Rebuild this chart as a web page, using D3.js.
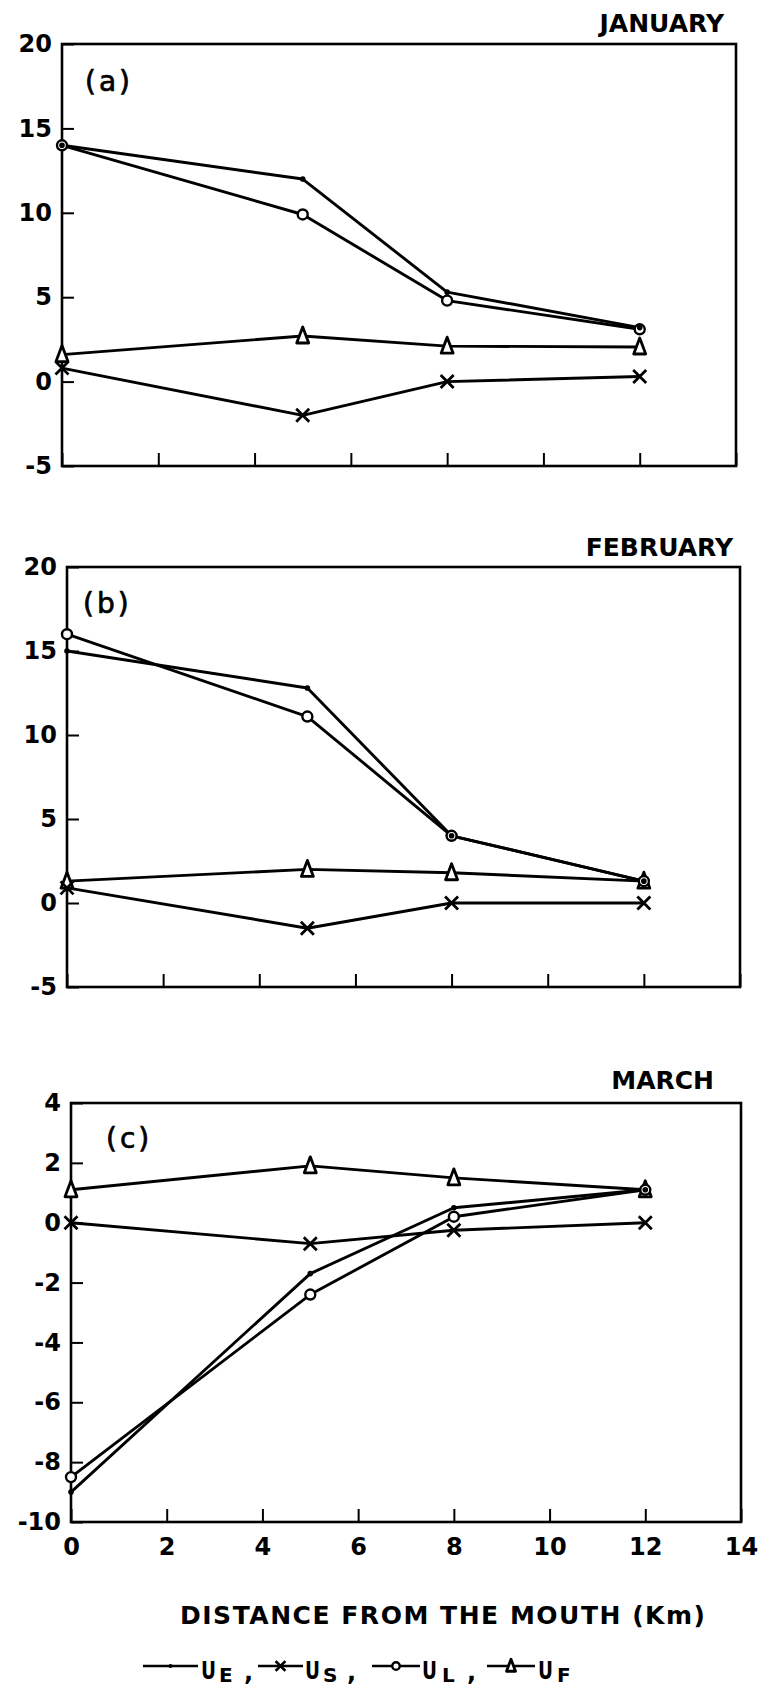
<!DOCTYPE html>
<html>
<head>
<meta charset="utf-8">
<script src="https://cdn.jsdelivr.net/npm/d3@7"></script>
<style>
  html, body { margin: 0; padding: 0; background: #fff; }
  svg { display: block; }
  text { font-family: "DejaVu Sans", sans-serif; fill: #000; }
</style>
</head>
<body>
<svg id="chart" width="762" height="1688"></svg>
<script>
// Distance stations along the estuary (km from the mouth)
const distances = [0, 5, 8, 12];

// Month names and panel tags
const months = ["JANUARY", "FEBRUARY", "MARCH"];
const panelTags = ["(a)", "(b)", "(c)"];

// January velocity components
const janUE = [14.0, 12.0, 5.3, 3.2];
const janUS = [0.8, -2.0, 0.0, 0.3];
const janUL = [14.0, 9.9, 4.8, 3.1];
const janUF = [1.6, 2.7, 2.1, 2.05];

// February velocity components
const febUE = [15.0, 12.8, 4.0, 1.3];
const febUS = [0.9, -1.5, 0.0, 0.0];
const febUL = [16.0, 11.1, 4.0, 1.3];
const febUF = [1.3, 2.0, 1.8, 1.3];

// March velocity components
const marUE = [-9.0, -1.7, 0.5, 1.1];
const marUS = [0.0, -0.7, -0.25, 0.0];
const marUL = [-8.5, -2.4, 0.2, 1.1];
const marUF = [1.1, 1.9, 1.5, 1.1];

// Axis ticks
const xTicks = [0, 2, 4, 6, 8, 10, 12, 14];
const yTicksWinter = [-5, 0, 5, 10, 15, 20];
const yTicksMarch = [-10, -8, -6, -4, -2, 0, 2, 4];

// Legend entries: series key and subscript letter
const legendKeys = ["UE", "US", "UL", "UF"];
const legendSubs = ["E", "S", "L", "F"];

const axisTitle = "DISTANCE FROM THE MOUTH (Km)";

const svg = d3.select("#chart");

const panels = [
  { month: months[0], tag: panelTags[0], series: { UE: janUE, US: janUS, UL: janUL, UF: janUF },
    yDomain: [-5, 20], yTicks: yTicksWinter,
    left: 62, right: 736, top: 44, bottom: 466,
    titleX: 724, titleY: 32, tagX: 85, tagY: 91, xLabels: false },
  { month: months[1], tag: panelTags[1], series: { UE: febUE, US: febUS, UL: febUL, UF: febUF },
    yDomain: [-5, 20], yTicks: yTicksWinter,
    left: 67, right: 740, top: 567, bottom: 987,
    titleX: 733, titleY: 556, tagX: 83, tagY: 613, xLabels: false },
  { month: months[2], tag: panelTags[2], series: { UE: marUE, US: marUS, UL: marUL, UF: marUF },
    yDomain: [-10, 4], yTicks: yTicksMarch,
    left: 71, right: 741, top: 1103, bottom: 1522,
    titleX: 714, titleY: 1089, tagX: 106, tagY: 1148, xLabels: true }
];

const LINE_W = 2.9;

// Draw one marker of a given series type
function marker(g, type, x, y, s) {
  s = s || 1;
  if (type === "UE") {
    g.append("circle").attr("cx", x).attr("cy", y).attr("r", 2.8 * s).attr("fill", "#000");
  } else if (type === "US") {
    const h = 6.5 * s;
    g.append("path")
      .attr("d", `M${x - h},${y - h}L${x + h},${y + h}M${x - h},${y + h}L${x + h},${y - h}`)
      .attr("stroke", "#000").attr("stroke-width", 2.8).attr("fill", "none");
  } else if (type === "UL") {
    g.append("circle").attr("cx", x).attr("cy", y).attr("r", 5 * s)
      .attr("fill", "#fff").attr("stroke", "#000").attr("stroke-width", 2.4);
  } else if (type === "UF") {
    const w = 6 * s, t = 9 * s, b = 7 * s;
    g.append("path")
      .attr("d", `M${x},${y - t}L${x + w},${y + b}L${x - w},${y + b}Z`)
      .attr("fill", "#fff").attr("stroke", "#000").attr("stroke-width", 2.8)
      .attr("stroke-linejoin", "round");
  }
}

panels.forEach(p => {
  const x = d3.scaleLinear().domain([0, 14]).range([p.left, p.right]);
  const y = d3.scaleLinear().domain(p.yDomain).range([p.bottom, p.top]);
  const g = svg.append("g");

  // Left axis: ticks point inward, labels outside
  const yAxis = d3.axisLeft(y).tickValues(p.yTicks).tickSizeInner(-12).tickSizeOuter(0)
    .tickPadding(10).tickFormat(d3.format("d"));
  const ya = g.append("g").attr("transform", `translate(${p.left},0)`).call(yAxis);
  ya.select(".domain").remove();
  ya.selectAll("line").attr("stroke", "#000").attr("stroke-width", 2);
  ya.selectAll("text").attr("font-family", "DejaVu Sans").attr("font-weight", "bold")
    .attr("font-size", 24).attr("fill", "#000").text(d => String(d).replace("\u2212", "-"));

  // Bottom axis: ticks point inward
  const xAxis = d3.axisBottom(x).tickValues(xTicks).tickSizeInner(-13).tickSizeOuter(0)
    .tickPadding(26).tickFormat(p.xLabels ? d3.format("d") : () => "");
  const xa = g.append("g").attr("transform", `translate(0,${p.bottom})`).call(xAxis);
  xa.select(".domain").remove();
  xa.selectAll("line").attr("stroke", "#000").attr("stroke-width", 2);
  xa.selectAll("text").attr("font-family", "DejaVu Sans").attr("font-weight", "bold")
    .attr("font-size", 24).attr("fill", "#000").attr("dy", "0.3em");

  // Plot frame
  g.append("rect")
    .attr("x", x(0)).attr("y", y(p.yDomain[1]))
    .attr("width", x(14) - x(0)).attr("height", y(p.yDomain[0]) - y(p.yDomain[1]))
    .attr("fill", "none").attr("stroke", "#000").attr("stroke-width", 2.6);

  // Month title and panel tag
  g.append("text").attr("x", p.titleX).attr("y", p.titleY).attr("text-anchor", "end")
    .attr("font-weight", "bold").attr("font-size", 25).text(p.month);
  g.append("text").attr("x", p.tagX).attr("y", p.tagY)
    .attr("font-size", 28).attr("letter-spacing", 3).attr("stroke", "#000").attr("stroke-width", 0.7)
    .text(p.tag);

  // Series lines
  const line = d3.line().x((d, i) => x(distances[i])).y(d => y(d));
  ["UF", "US", "UL", "UE"].forEach(k => {
    g.append("path").datum(p.series[k]).attr("d", line)
      .attr("fill", "none").attr("stroke", "#000").attr("stroke-width", LINE_W)
      .attr("stroke-linejoin", "round");
  });
  // Series markers
  ["UF", "US", "UL", "UE"].forEach(k => {
    p.series[k].forEach((v, i) => marker(g, k, x(distances[i]), y(v)));
  });
});

// Horizontal axis title
svg.append("text").attr("x", 180).attr("y", 1624)
  .attr("font-weight", "bold").attr("font-size", 25)
  .attr("textLength", 525).attr("lengthAdjust", "spacing")
  .text(axisTitle);

// Legend
const legendPos = [
  { x0: 143, x1: 198, u: 201, sub: 219, comma: 244 },
  { x0: 258, x1: 303, u: 305, sub: 323, comma: 347 },
  { x0: 372, x1: 420, u: 422, sub: 442, comma: 467 },
  { x0: 487, x1: 535, u: 538, sub: 557, comma: null }
];
const lg = svg.append("g");
const ly = 1666;
legendKeys.forEach((k, i) => {
  const pos = legendPos[i];
  lg.append("line").attr("x1", pos.x0).attr("x2", pos.x1).attr("y1", ly).attr("y2", ly)
    .attr("stroke", "#000").attr("stroke-width", 2.4);
  marker(lg, k, (pos.x0 + pos.x1) / 2, ly, 0.75);
  lg.append("text").attr("x", pos.u).attr("y", 1679).attr("font-weight", "bold")
    .attr("font-size", 24).attr("textLength", 15).attr("lengthAdjust", "spacingAndGlyphs").text("U");
  lg.append("text").attr("x", pos.sub).attr("y", 1682).attr("font-weight", "bold")
    .attr("font-size", 20).text(legendSubs[i]);
  if (pos.comma !== null) {
    lg.append("text").attr("x", pos.comma).attr("y", 1680).attr("font-weight", "bold")
      .attr("font-size", 24).text(",");
  }
});
</script>
</body>
</html>
